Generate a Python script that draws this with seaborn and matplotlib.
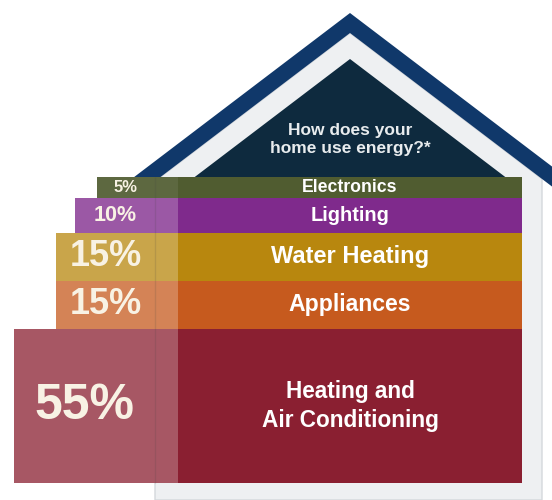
import numpy as np
import matplotlib.pyplot as plt
from matplotlib.patches import Polygon
import seaborn as sns

# data
categories = ["Electronics", "Lighting", "Water Heating", "Appliances",
              "Heating and\nAir Conditioning"]
shares = [5, 10, 15, 15, 55]
question = "How does your\nhome use energy?*"

# style
bar_colors = ["#505c30", "#7f2a8c", "#b8870e", "#c65a1e", "#8a1f31"]
tab_tint = [0.08, 0.22, 0.25, 0.25, 0.25]
tab_left = [97, 75, 56, 56, 14]
pct_size = [12, 15.5, 26, 26, 36]
label_size = [12.7, 14.4, 17, 16.6, 16.3]

sns.set_theme(style="white")
plt.rcParams["font.family"] = ["Liberation Sans", "DejaVu Sans"]

# layout in pixels of the 552x500 canvas
top, stack_h, pad = 177, 306, 3
apex_x, wall_l, dark_l, bar_r, wall_r = 350, 155, 178, 522, 542
slope = 0.76


def roof_y(x, apex_y):
    return apex_y + abs(x - apex_x) * slope


fig = plt.figure(figsize=(5.52, 5.0), dpi=100)
ax = fig.add_axes([0, 0, 1, 1])
ax.set_xlim(0, 552)
ax.set_ylim(500, 0)
ax.axis("off")

# house, roof and gable
house = [(wall_l, 500), (wall_l, roof_y(wall_l, 33)), (apex_x, 33),
         (wall_r, roof_y(wall_r, 33)), (wall_r, 500)]
ax.add_patch(Polygon(house, closed=True, fc="#eef0f2", ec="#d4d8dc",
                     lw=1, zorder=1))
roof = [(apex_x - (top - 13) / slope, top), (apex_x, 13),
        (600, roof_y(600, 13)), (600, roof_y(600, 33)), (apex_x, 33),
        (apex_x - (top - 33) / slope, top)]
ax.add_patch(Polygon(roof, fc="#10386a", ec="none", zorder=2))
gable = [(apex_x - (top - 59) / slope, top), (apex_x, 59),
         (apex_x + (top - 59) / slope, top)]
ax.add_patch(Polygon(gable, fc="#0e2a3e", ec="none", zorder=2))

ax.text(apex_x, 140, question, ha="center", va="center", color="#e8ecee",
        fontsize=12.5, fontweight="bold", linespacing=1.25, zorder=6)

# stacked rows, thickness from the shares
k = stack_h / (sum(shares) + pad * len(shares))
heights = np.array([k * (v + pad) for v in shares])
bottoms = top + np.concatenate([[0], np.cumsum(heights)[:-1]])
centers = bottoms + heights / 2

ax.barh(centers, [bar_r - l for l in tab_left], height=heights,
        left=tab_left, color=bar_colors, lw=0, zorder=3)
for i in range(len(shares)):
    ax.barh(centers[i], dark_l - tab_left[i], height=heights[i],
            left=tab_left[i], color="white", alpha=tab_tint[i], lw=0,
            zorder=4)
ax.vlines(wall_l, top, bottoms[-1] + heights[-1], color="#404040",
          alpha=0.15, lw=1, zorder=5)

for i, cat in enumerate(categories):
    ax.text(apex_x, centers[i], cat, ha="center", va="center",
            fontsize=label_size[i], fontweight="bold", color="white",
            linespacing=1.3, zorder=6)
    ax.text((tab_left[i] + wall_l) / 2, centers[i], f"{shares[i]}%",
            ha="center", va="center", fontsize=pct_size[i],
            fontweight="bold", color="#f8f2e4", zorder=6)

fig.savefig("out.png", dpi=100, facecolor="white")
